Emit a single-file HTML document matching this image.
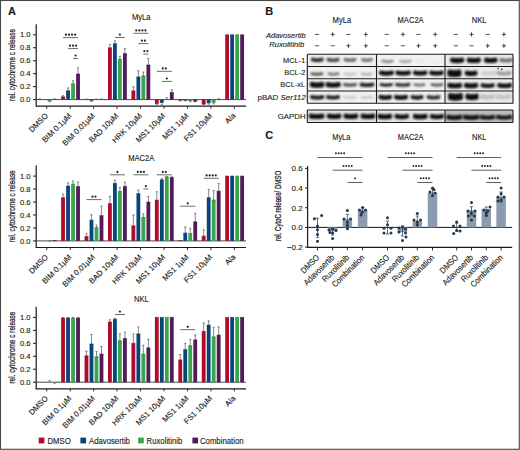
<!DOCTYPE html>
<html><head><meta charset="utf-8"><style>
html,body{margin:0;padding:0;background:#fff;}
#wrap{position:relative;width:520px;height:450px;overflow:hidden;background:#fff;}
svg{position:absolute;left:0;top:0;}
text{stroke:#1a1a1a;stroke-width:0.12px;}
</style></head><body><div id="wrap">
<svg width="520" height="450" viewBox="0 0 520 450" font-family="Liberation Sans, sans-serif" fill="#1a1a1a">
<text x="141.3" y="19.5" font-size="8.51" text-anchor="middle" textLength="18.58" lengthAdjust="spacingAndGlyphs" >MyLa</text>
<text transform="translate(15.1,65) rotate(-90)" font-size="8.3" style="stroke-width:0.22px" text-anchor="middle" textLength="72" lengthAdjust="spacingAndGlyphs">rel. cytochrome c release</text>
<path d="M36.2 24.2V106.2H246" fill="none" stroke="#1a1a1a" stroke-width="1.2"/>
<path d="M36.2 99.6H246" fill="none" stroke="#333" stroke-width="0.9"/>
<path d="M33 99.6H36.2" stroke="#1a1a1a" stroke-width="1"/>
<text x="30.6" y="102.2" font-size="7.6" text-anchor="end">0.0</text>
<path d="M33 86.64H36.2" stroke="#1a1a1a" stroke-width="1"/>
<text x="30.6" y="89.24" font-size="7.6" text-anchor="end">0.2</text>
<path d="M33 73.68H36.2" stroke="#1a1a1a" stroke-width="1"/>
<text x="30.6" y="76.28" font-size="7.6" text-anchor="end">0.4</text>
<path d="M33 60.72H36.2" stroke="#1a1a1a" stroke-width="1"/>
<text x="30.6" y="63.32" font-size="7.6" text-anchor="end">0.6</text>
<path d="M33 47.76H36.2" stroke="#1a1a1a" stroke-width="1"/>
<text x="30.6" y="50.36" font-size="7.6" text-anchor="end">0.8</text>
<path d="M33 34.8H36.2" stroke="#1a1a1a" stroke-width="1"/>
<text x="30.6" y="37.4" font-size="7.6" text-anchor="end">1.0</text>
<path d="M46.8 106.2V108.8" stroke="#1a1a1a" stroke-width="0.9"/>
<text transform="translate(48.5,116.3) rotate(-45)" font-size="7.8" text-anchor="end">DMSO</text>
<path d="M39.6 99.6V98.82M38.5 98.82H40.7" stroke="#555" stroke-width="0.7" fill="none"/>
<rect x="47.7" y="99.6" width="3.8" height="1.3" fill="#38a64b"/>
<path d="M47.7 100.9H51.5" stroke="#267032" stroke-width="0.6"/>
<path d="M49.6 100.9V101.87M48.5 101.87H50.7" stroke="#555" stroke-width="0.7" fill="none"/>
<path d="M54.6 99.6V98.82M53.5 98.82H55.7" stroke="#555" stroke-width="0.7" fill="none"/>
<path d="M70.24 106.2V108.8" stroke="#1a1a1a" stroke-width="0.9"/>
<text transform="translate(71.94,116.3) rotate(-45)" font-size="7.8" text-anchor="end">BIM 0.1µM</text>
<rect x="61.14" y="96.81" width="3.8" height="2.79" fill="#b20a2a"/>
<path d="M61.14 96.81H64.94" stroke="#7a0a1e" stroke-width="0.6"/>
<path d="M63.04 96.81V95.71M61.94 95.71H64.14" stroke="#555" stroke-width="0.7" fill="none"/>
<rect x="66.14" y="90.72" width="3.8" height="8.88" fill="#07467a"/>
<path d="M66.14 90.72H69.94" stroke="#07304f" stroke-width="0.6"/>
<path d="M68.04 90.72V87.94M66.94 87.94H69.14" stroke="#555" stroke-width="0.7" fill="none"/>
<rect x="71.14" y="83.72" width="3.8" height="15.88" fill="#38a64b"/>
<path d="M71.14 83.72H74.94" stroke="#267032" stroke-width="0.6"/>
<path d="M73.04 83.72V80.81M71.94 80.81H74.14" stroke="#555" stroke-width="0.7" fill="none"/>
<rect x="76.14" y="74" width="3.8" height="25.6" fill="#521a5a"/>
<path d="M76.14 74H79.94" stroke="#36103b" stroke-width="0.6"/>
<path d="M78.04 74V67.85M76.94 67.85H79.14" stroke="#555" stroke-width="0.7" fill="none"/>
<path d="M93.68 106.2V108.8" stroke="#1a1a1a" stroke-width="0.9"/>
<text transform="translate(95.38,116.3) rotate(-45)" font-size="7.8" text-anchor="end">BIM 0.01µM</text>
<path d="M86.48 99.6V98.95M85.38 98.95H87.58" stroke="#555" stroke-width="0.7" fill="none"/>
<rect x="89.58" y="99.6" width="3.8" height="0.65" fill="#07467a"/>
<path d="M89.58 100.25H93.38" stroke="#07304f" stroke-width="0.6"/>
<path d="M91.48 100.25V101.54M90.38 101.54H92.58" stroke="#555" stroke-width="0.7" fill="none"/>
<path d="M96.48 99.6V98.95M95.38 98.95H97.58" stroke="#555" stroke-width="0.7" fill="none"/>
<path d="M101.48 99.6V98.95M100.38 98.95H102.58" stroke="#555" stroke-width="0.7" fill="none"/>
<path d="M117.12 106.2V108.8" stroke="#1a1a1a" stroke-width="0.9"/>
<text transform="translate(118.82,116.3) rotate(-45)" font-size="7.8" text-anchor="end">BAD 10µM</text>
<rect x="108.02" y="47.76" width="3.8" height="51.84" fill="#b20a2a"/>
<path d="M108.02 47.76H111.82" stroke="#7a0a1e" stroke-width="0.6"/>
<path d="M109.92 47.76V44.52M108.82 44.52H111.02" stroke="#555" stroke-width="0.7" fill="none"/>
<rect x="113.02" y="43.68" width="3.8" height="55.92" fill="#07467a"/>
<path d="M113.02 43.68H116.82" stroke="#07304f" stroke-width="0.6"/>
<path d="M114.92 43.68V40.89M113.82 40.89H116.02" stroke="#555" stroke-width="0.7" fill="none"/>
<rect x="118.02" y="59.23" width="3.8" height="40.37" fill="#38a64b"/>
<path d="M118.02 59.23H121.82" stroke="#267032" stroke-width="0.6"/>
<path d="M119.92 59.23V56.31M118.82 56.31H121.02" stroke="#555" stroke-width="0.7" fill="none"/>
<rect x="123.02" y="53.59" width="3.8" height="46.01" fill="#521a5a"/>
<path d="M123.02 53.59H126.82" stroke="#36103b" stroke-width="0.6"/>
<path d="M124.92 53.59V48.67M123.82 48.67H126.02" stroke="#555" stroke-width="0.7" fill="none"/>
<path d="M140.56 106.2V108.8" stroke="#1a1a1a" stroke-width="0.9"/>
<text transform="translate(142.26,116.3) rotate(-45)" font-size="7.8" text-anchor="end">HRK 10µM</text>
<rect x="131.46" y="90.92" width="3.8" height="8.68" fill="#b20a2a"/>
<path d="M131.46 90.92H135.26" stroke="#7a0a1e" stroke-width="0.6"/>
<path d="M133.36 90.92V86.83M132.26 86.83H134.46" stroke="#555" stroke-width="0.7" fill="none"/>
<rect x="136.46" y="76.92" width="3.8" height="22.68" fill="#07467a"/>
<path d="M136.46 76.92H140.26" stroke="#07304f" stroke-width="0.6"/>
<path d="M138.36 76.92V70.76M137.26 70.76H139.46" stroke="#555" stroke-width="0.7" fill="none"/>
<rect x="141.46" y="75.95" width="3.8" height="23.65" fill="#38a64b"/>
<path d="M141.46 75.95H145.26" stroke="#267032" stroke-width="0.6"/>
<path d="M143.36 75.95V72M142.26 72H144.46" stroke="#555" stroke-width="0.7" fill="none"/>
<rect x="146.46" y="65" width="3.8" height="34.6" fill="#521a5a"/>
<path d="M146.46 65H150.26" stroke="#36103b" stroke-width="0.6"/>
<path d="M148.36 65V58.45M147.26 58.45H149.46" stroke="#555" stroke-width="0.7" fill="none"/>
<path d="M164 106.2V108.8" stroke="#1a1a1a" stroke-width="0.9"/>
<text transform="translate(165.7,116.3) rotate(-45)" font-size="7.8" text-anchor="end">MS1 10µM</text>
<rect x="154.9" y="99.6" width="3.8" height="3.89" fill="#b20a2a"/>
<path d="M154.9 103.49H158.7" stroke="#7a0a1e" stroke-width="0.6"/>
<path d="M156.8 103.49V104.46M155.7 104.46H157.9" stroke="#555" stroke-width="0.7" fill="none"/>
<rect x="159.9" y="99.6" width="3.8" height="2.92" fill="#07467a"/>
<path d="M159.9 102.52H163.7" stroke="#07304f" stroke-width="0.6"/>
<path d="M161.8 102.52V104.78M160.7 104.78H162.9" stroke="#555" stroke-width="0.7" fill="none"/>
<path d="M166.8 99.6V97.66M165.7 97.66H167.9" stroke="#555" stroke-width="0.7" fill="none"/>
<rect x="169.9" y="92.47" width="3.8" height="7.13" fill="#521a5a"/>
<path d="M169.9 92.47H173.7" stroke="#36103b" stroke-width="0.6"/>
<path d="M171.8 92.47V89.88M170.7 89.88H172.9" stroke="#555" stroke-width="0.7" fill="none"/>
<path d="M187.44 106.2V108.8" stroke="#1a1a1a" stroke-width="0.9"/>
<text transform="translate(189.14,116.3) rotate(-45)" font-size="7.8" text-anchor="end">MS1 1µM</text>
<rect x="178.34" y="99.6" width="3.8" height="0.65" fill="#b20a2a"/>
<path d="M178.34 100.25H182.14" stroke="#7a0a1e" stroke-width="0.6"/>
<path d="M180.24 100.25V100.9M179.14 100.9H181.34" stroke="#555" stroke-width="0.7" fill="none"/>
<rect x="183.34" y="99.6" width="3.8" height="0.65" fill="#07467a"/>
<path d="M183.34 100.25H187.14" stroke="#07304f" stroke-width="0.6"/>
<path d="M185.24 100.25V100.9M184.14 100.9H186.34" stroke="#555" stroke-width="0.7" fill="none"/>
<rect x="188.34" y="99.6" width="3.8" height="0.97" fill="#38a64b"/>
<path d="M188.34 100.57H192.14" stroke="#267032" stroke-width="0.6"/>
<path d="M190.24 100.57V101.54M189.14 101.54H191.34" stroke="#555" stroke-width="0.7" fill="none"/>
<rect x="193.34" y="99.6" width="3.8" height="1.62" fill="#521a5a"/>
<path d="M193.34 101.22H197.14" stroke="#36103b" stroke-width="0.6"/>
<path d="M195.24 101.22V101.87M194.14 101.87H196.34" stroke="#555" stroke-width="0.7" fill="none"/>
<path d="M210.88 106.2V108.8" stroke="#1a1a1a" stroke-width="0.9"/>
<text transform="translate(212.58,116.3) rotate(-45)" font-size="7.8" text-anchor="end">FS1 10µM</text>
<rect x="201.78" y="99.6" width="3.8" height="4.54" fill="#b20a2a"/>
<path d="M201.78 104.14H205.58" stroke="#7a0a1e" stroke-width="0.6"/>
<path d="M203.68 104.14V104.78M202.58 104.78H204.78" stroke="#555" stroke-width="0.7" fill="none"/>
<rect x="206.78" y="99.6" width="3.8" height="3.24" fill="#07467a"/>
<path d="M206.78 102.84H210.58" stroke="#07304f" stroke-width="0.6"/>
<path d="M208.68 102.84V104.14M207.58 104.14H209.78" stroke="#555" stroke-width="0.7" fill="none"/>
<rect x="211.78" y="99.6" width="3.8" height="2.59" fill="#38a64b"/>
<path d="M211.78 102.19H215.58" stroke="#267032" stroke-width="0.6"/>
<path d="M213.68 102.19V103.81M212.58 103.81H214.78" stroke="#555" stroke-width="0.7" fill="none"/>
<path d="M218.68 99.6V98.63M217.58 98.63H219.78" stroke="#555" stroke-width="0.7" fill="none"/>
<path d="M234.32 106.2V108.8" stroke="#1a1a1a" stroke-width="0.9"/>
<text transform="translate(236.02,116.3) rotate(-45)" font-size="7.8" text-anchor="end">Ala</text>
<rect x="225.22" y="34.8" width="3.8" height="64.8" fill="#b20a2a"/>
<path d="M225.22 34.8H229.02" stroke="#7a0a1e" stroke-width="0.6"/>
<rect x="230.22" y="34.8" width="3.8" height="64.8" fill="#07467a"/>
<path d="M230.22 34.8H234.02" stroke="#07304f" stroke-width="0.6"/>
<rect x="235.22" y="34.8" width="3.8" height="64.8" fill="#38a64b"/>
<path d="M235.22 34.8H239.02" stroke="#267032" stroke-width="0.6"/>
<rect x="240.22" y="34.8" width="3.8" height="64.8" fill="#521a5a"/>
<path d="M240.22 34.8H244.02" stroke="#36103b" stroke-width="0.6"/>
<path d="M63.04 37.6H78.04" stroke="#3a3a3a" stroke-width="0.75"/>
<circle cx="65.96" cy="34.7" r="1.08" fill="#222"/>
<circle cx="69.01" cy="34.7" r="1.08" fill="#222"/>
<circle cx="72.06" cy="34.7" r="1.08" fill="#222"/>
<circle cx="75.11" cy="34.7" r="1.08" fill="#222"/>
<path d="M68.04 48.6H78.04" stroke="#3a3a3a" stroke-width="0.75"/>
<circle cx="69.99" cy="45.7" r="1.08" fill="#222"/>
<circle cx="73.04" cy="45.7" r="1.08" fill="#222"/>
<circle cx="76.09" cy="45.7" r="1.08" fill="#222"/>
<path d="M73.04 58.4H78.04" stroke="#3a3a3a" stroke-width="0.75"/>
<circle cx="75.54" cy="55.5" r="1.08" fill="#222"/>
<path d="M114.92 37.5H124.92" stroke="#3a3a3a" stroke-width="0.75"/>
<circle cx="119.92" cy="34.6" r="1.08" fill="#222"/>
<path d="M133.36 33.3H148.36" stroke="#3a3a3a" stroke-width="0.75"/>
<circle cx="136.29" cy="30.4" r="1.08" fill="#222"/>
<circle cx="139.34" cy="30.4" r="1.08" fill="#222"/>
<circle cx="142.39" cy="30.4" r="1.08" fill="#222"/>
<circle cx="145.44" cy="30.4" r="1.08" fill="#222"/>
<path d="M138.36 43.6H148.36" stroke="#3a3a3a" stroke-width="0.75"/>
<circle cx="141.84" cy="40.7" r="1.08" fill="#222"/>
<circle cx="144.89" cy="40.7" r="1.08" fill="#222"/>
<path d="M143.36 54H148.36" stroke="#3a3a3a" stroke-width="0.75"/>
<circle cx="144.34" cy="51.1" r="1.08" fill="#222"/>
<circle cx="147.39" cy="51.1" r="1.08" fill="#222"/>
<path d="M156.8 71.3H171.8" stroke="#3a3a3a" stroke-width="0.75"/>
<circle cx="162.78" cy="68.4" r="1.08" fill="#222"/>
<circle cx="165.83" cy="68.4" r="1.08" fill="#222"/>
<path d="M161.8 81.4H171.8" stroke="#3a3a3a" stroke-width="0.75"/>
<circle cx="166.8" cy="78.5" r="1.08" fill="#222"/>
<text x="141.3" y="160.8" font-size="8.51" text-anchor="middle" textLength="26.18" lengthAdjust="spacingAndGlyphs" >MAC2A</text>
<text transform="translate(15.1,206.3) rotate(-90)" font-size="8.3" style="stroke-width:0.22px" text-anchor="middle" textLength="72" lengthAdjust="spacingAndGlyphs">rel. cytochrome c release</text>
<path d="M36.2 165.5V247.5H246" fill="none" stroke="#1a1a1a" stroke-width="1.2"/>
<path d="M36.2 240.9H246" fill="none" stroke="#333" stroke-width="0.9"/>
<path d="M33 240.9H36.2" stroke="#1a1a1a" stroke-width="1"/>
<text x="30.6" y="243.5" font-size="7.6" text-anchor="end">0.0</text>
<path d="M33 227.94H36.2" stroke="#1a1a1a" stroke-width="1"/>
<text x="30.6" y="230.54" font-size="7.6" text-anchor="end">0.2</text>
<path d="M33 214.98H36.2" stroke="#1a1a1a" stroke-width="1"/>
<text x="30.6" y="217.58" font-size="7.6" text-anchor="end">0.4</text>
<path d="M33 202.02H36.2" stroke="#1a1a1a" stroke-width="1"/>
<text x="30.6" y="204.62" font-size="7.6" text-anchor="end">0.6</text>
<path d="M33 189.06H36.2" stroke="#1a1a1a" stroke-width="1"/>
<text x="30.6" y="191.66" font-size="7.6" text-anchor="end">0.8</text>
<path d="M33 176.1H36.2" stroke="#1a1a1a" stroke-width="1"/>
<text x="30.6" y="178.7" font-size="7.6" text-anchor="end">1.0</text>
<path d="M46.8 247.5V250.1" stroke="#1a1a1a" stroke-width="0.9"/>
<text transform="translate(48.5,257.6) rotate(-45)" font-size="7.8" text-anchor="end">DMSO</text>
<path d="M48.6 240.9H50.6" stroke="#444" stroke-width="0.8"/>
<rect x="52.7" y="240.58" width="3.8" height="0.32" fill="#521a5a"/>
<path d="M52.7 240.58H56.5" stroke="#36103b" stroke-width="0.6"/>
<path d="M70.24 247.5V250.1" stroke="#1a1a1a" stroke-width="0.9"/>
<text transform="translate(71.94,257.6) rotate(-45)" font-size="7.8" text-anchor="end">BIM 0.1µM</text>
<rect x="61.14" y="197.74" width="3.8" height="43.16" fill="#b20a2a"/>
<path d="M61.14 197.74H64.94" stroke="#7a0a1e" stroke-width="0.6"/>
<path d="M63.04 197.74V194.24M61.94 194.24H64.14" stroke="#555" stroke-width="0.7" fill="none"/>
<rect x="66.14" y="186.08" width="3.8" height="54.82" fill="#07467a"/>
<path d="M66.14 186.08H69.94" stroke="#07304f" stroke-width="0.6"/>
<path d="M68.04 186.08V182.84M66.94 182.84H69.14" stroke="#555" stroke-width="0.7" fill="none"/>
<rect x="71.14" y="184.26" width="3.8" height="56.64" fill="#38a64b"/>
<path d="M71.14 184.26H74.94" stroke="#267032" stroke-width="0.6"/>
<path d="M73.04 184.26V181.02M71.94 181.02H74.14" stroke="#555" stroke-width="0.7" fill="none"/>
<rect x="76.14" y="186.47" width="3.8" height="54.43" fill="#521a5a"/>
<path d="M76.14 186.47H79.94" stroke="#36103b" stroke-width="0.6"/>
<path d="M78.04 186.47V181.93M76.94 181.93H79.14" stroke="#555" stroke-width="0.7" fill="none"/>
<path d="M93.68 247.5V250.1" stroke="#1a1a1a" stroke-width="0.9"/>
<text transform="translate(95.38,257.6) rotate(-45)" font-size="7.8" text-anchor="end">BIM 0.01µM</text>
<rect x="84.58" y="236.56" width="3.8" height="4.34" fill="#b20a2a"/>
<path d="M84.58 236.56H88.38" stroke="#7a0a1e" stroke-width="0.6"/>
<path d="M86.48 236.56V233.77M85.38 233.77H87.58" stroke="#555" stroke-width="0.7" fill="none"/>
<rect x="89.58" y="220.16" width="3.8" height="20.74" fill="#07467a"/>
<path d="M89.58 220.16H93.38" stroke="#07304f" stroke-width="0.6"/>
<path d="M91.48 220.16V214.66M90.38 214.66H92.58" stroke="#555" stroke-width="0.7" fill="none"/>
<rect x="94.58" y="227.62" width="3.8" height="13.28" fill="#38a64b"/>
<path d="M94.58 227.62H98.38" stroke="#267032" stroke-width="0.6"/>
<path d="M96.48 227.62V225.09M95.38 225.09H97.58" stroke="#555" stroke-width="0.7" fill="none"/>
<rect x="99.58" y="215.63" width="3.8" height="25.27" fill="#521a5a"/>
<path d="M99.58 215.63H103.38" stroke="#36103b" stroke-width="0.6"/>
<path d="M101.48 215.63V206.17M100.38 206.17H102.58" stroke="#555" stroke-width="0.7" fill="none"/>
<path d="M117.12 247.5V250.1" stroke="#1a1a1a" stroke-width="0.9"/>
<text transform="translate(118.82,257.6) rotate(-45)" font-size="7.8" text-anchor="end">BAD 10µM</text>
<rect x="108.02" y="203.64" width="3.8" height="37.26" fill="#b20a2a"/>
<path d="M108.02 203.64H111.82" stroke="#7a0a1e" stroke-width="0.6"/>
<path d="M109.92 203.64V196.45M108.82 196.45H111.02" stroke="#555" stroke-width="0.7" fill="none"/>
<rect x="113.02" y="183.36" width="3.8" height="57.54" fill="#07467a"/>
<path d="M113.02 183.36H116.82" stroke="#07304f" stroke-width="0.6"/>
<path d="M114.92 183.36V180.31M113.82 180.31H116.02" stroke="#555" stroke-width="0.7" fill="none"/>
<rect x="118.02" y="191.39" width="3.8" height="49.51" fill="#38a64b"/>
<path d="M118.02 191.39H121.82" stroke="#267032" stroke-width="0.6"/>
<path d="M119.92 191.39V187.5M118.82 187.5H121.02" stroke="#555" stroke-width="0.7" fill="none"/>
<rect x="123.02" y="186.47" width="3.8" height="54.43" fill="#521a5a"/>
<path d="M123.02 186.47H126.82" stroke="#36103b" stroke-width="0.6"/>
<path d="M124.92 186.47V182.13M123.82 182.13H126.02" stroke="#555" stroke-width="0.7" fill="none"/>
<path d="M140.56 247.5V250.1" stroke="#1a1a1a" stroke-width="0.9"/>
<text transform="translate(142.26,257.6) rotate(-45)" font-size="7.8" text-anchor="end">HRK 10µM</text>
<rect x="131.46" y="225.8" width="3.8" height="15.1" fill="#b20a2a"/>
<path d="M131.46 225.8H135.26" stroke="#7a0a1e" stroke-width="0.6"/>
<path d="M133.36 225.8V214.98M132.26 214.98H134.46" stroke="#555" stroke-width="0.7" fill="none"/>
<rect x="136.46" y="193.6" width="3.8" height="47.3" fill="#07467a"/>
<path d="M136.46 193.6H140.26" stroke="#07304f" stroke-width="0.6"/>
<path d="M138.36 193.6V190.03M137.26 190.03H139.46" stroke="#555" stroke-width="0.7" fill="none"/>
<rect x="141.46" y="217.44" width="3.8" height="23.46" fill="#38a64b"/>
<path d="M141.46 217.44H145.26" stroke="#267032" stroke-width="0.6"/>
<path d="M143.36 217.44V213.81M142.26 213.81H144.46" stroke="#555" stroke-width="0.7" fill="none"/>
<rect x="146.46" y="202.02" width="3.8" height="38.88" fill="#521a5a"/>
<path d="M146.46 202.02H150.26" stroke="#36103b" stroke-width="0.6"/>
<path d="M148.36 202.02V196.45M147.26 196.45H149.46" stroke="#555" stroke-width="0.7" fill="none"/>
<path d="M164 247.5V250.1" stroke="#1a1a1a" stroke-width="0.9"/>
<text transform="translate(165.7,257.6) rotate(-45)" font-size="7.8" text-anchor="end">MS1 10µM</text>
<rect x="154.9" y="200.08" width="3.8" height="40.82" fill="#b20a2a"/>
<path d="M154.9 200.08H158.7" stroke="#7a0a1e" stroke-width="0.6"/>
<path d="M156.8 200.08V191.85M155.7 191.85H157.9" stroke="#555" stroke-width="0.7" fill="none"/>
<rect x="159.9" y="179.86" width="3.8" height="61.04" fill="#07467a"/>
<path d="M159.9 179.86H163.7" stroke="#07304f" stroke-width="0.6"/>
<path d="M161.8 179.86V178.69M160.7 178.69H162.9" stroke="#555" stroke-width="0.7" fill="none"/>
<rect x="164.9" y="177.07" width="3.8" height="63.83" fill="#38a64b"/>
<path d="M164.9 177.07H168.7" stroke="#267032" stroke-width="0.6"/>
<path d="M166.8 177.07V176.42M165.7 176.42H167.9" stroke="#555" stroke-width="0.7" fill="none"/>
<rect x="169.9" y="177.53" width="3.8" height="63.37" fill="#521a5a"/>
<path d="M169.9 177.53H173.7" stroke="#36103b" stroke-width="0.6"/>
<path d="M171.8 177.53V176.75M170.7 176.75H172.9" stroke="#555" stroke-width="0.7" fill="none"/>
<path d="M187.44 247.5V250.1" stroke="#1a1a1a" stroke-width="0.9"/>
<text transform="translate(189.14,257.6) rotate(-45)" font-size="7.8" text-anchor="end">MS1 1µM</text>
<rect x="178.34" y="240.58" width="3.8" height="0.32" fill="#b20a2a"/>
<path d="M178.34 240.58H182.14" stroke="#7a0a1e" stroke-width="0.6"/>
<rect x="183.34" y="233.12" width="3.8" height="7.78" fill="#07467a"/>
<path d="M183.34 233.12H187.14" stroke="#07304f" stroke-width="0.6"/>
<path d="M185.24 233.12V226.9M184.14 226.9H186.34" stroke="#555" stroke-width="0.7" fill="none"/>
<rect x="188.34" y="233.58" width="3.8" height="7.32" fill="#38a64b"/>
<path d="M188.34 233.58H192.14" stroke="#267032" stroke-width="0.6"/>
<path d="M190.24 233.58V228.59M189.14 228.59H191.34" stroke="#555" stroke-width="0.7" fill="none"/>
<rect x="193.34" y="221.85" width="3.8" height="19.05" fill="#521a5a"/>
<path d="M193.34 221.85H197.14" stroke="#36103b" stroke-width="0.6"/>
<path d="M195.24 221.85V213.3M194.14 213.3H196.34" stroke="#555" stroke-width="0.7" fill="none"/>
<path d="M210.88 247.5V250.1" stroke="#1a1a1a" stroke-width="0.9"/>
<text transform="translate(212.58,257.6) rotate(-45)" font-size="7.8" text-anchor="end">FS1 10µM</text>
<rect x="201.78" y="236.17" width="3.8" height="4.73" fill="#b20a2a"/>
<path d="M201.78 236.17H205.58" stroke="#7a0a1e" stroke-width="0.6"/>
<path d="M203.68 236.17V229.88M202.58 229.88H204.78" stroke="#555" stroke-width="0.7" fill="none"/>
<rect x="206.78" y="197.74" width="3.8" height="43.16" fill="#07467a"/>
<path d="M206.78 197.74H210.58" stroke="#07304f" stroke-width="0.6"/>
<path d="M208.68 197.74V189.32M207.58 189.32H209.78" stroke="#555" stroke-width="0.7" fill="none"/>
<rect x="211.78" y="200.08" width="3.8" height="40.82" fill="#38a64b"/>
<path d="M211.78 200.08H215.58" stroke="#267032" stroke-width="0.6"/>
<path d="M213.68 200.08V190.62M212.58 190.62H214.78" stroke="#555" stroke-width="0.7" fill="none"/>
<rect x="216.78" y="191.13" width="3.8" height="49.77" fill="#521a5a"/>
<path d="M216.78 191.13H220.58" stroke="#36103b" stroke-width="0.6"/>
<path d="M218.68 191.13V183.49M217.58 183.49H219.78" stroke="#555" stroke-width="0.7" fill="none"/>
<path d="M234.32 247.5V250.1" stroke="#1a1a1a" stroke-width="0.9"/>
<text transform="translate(236.02,257.6) rotate(-45)" font-size="7.8" text-anchor="end">Ala</text>
<rect x="225.22" y="176.1" width="3.8" height="64.8" fill="#b20a2a"/>
<path d="M225.22 176.1H229.02" stroke="#7a0a1e" stroke-width="0.6"/>
<rect x="230.22" y="176.1" width="3.8" height="64.8" fill="#07467a"/>
<path d="M230.22 176.1H234.02" stroke="#07304f" stroke-width="0.6"/>
<rect x="235.22" y="176.1" width="3.8" height="64.8" fill="#38a64b"/>
<path d="M235.22 176.1H239.02" stroke="#267032" stroke-width="0.6"/>
<rect x="240.22" y="176.1" width="3.8" height="64.8" fill="#521a5a"/>
<path d="M240.22 176.1H244.02" stroke="#36103b" stroke-width="0.6"/>
<path d="M86.48 199.6H101.48" stroke="#3a3a3a" stroke-width="0.75"/>
<circle cx="92.46" cy="196.7" r="1.08" fill="#222"/>
<circle cx="95.51" cy="196.7" r="1.08" fill="#222"/>
<path d="M109.92 174.8H124.92" stroke="#3a3a3a" stroke-width="0.75"/>
<circle cx="117.42" cy="171.9" r="1.08" fill="#222"/>
<path d="M133.36 174.8H148.36" stroke="#3a3a3a" stroke-width="0.75"/>
<circle cx="137.81" cy="171.9" r="1.08" fill="#222"/>
<circle cx="140.86" cy="171.9" r="1.08" fill="#222"/>
<circle cx="143.91" cy="171.9" r="1.08" fill="#222"/>
<path d="M143.36 189H148.36" stroke="#3a3a3a" stroke-width="0.75"/>
<circle cx="145.86" cy="186.1" r="1.08" fill="#222"/>
<path d="M156.8 174.8H171.8" stroke="#3a3a3a" stroke-width="0.75"/>
<circle cx="162.78" cy="171.9" r="1.08" fill="#222"/>
<circle cx="165.83" cy="171.9" r="1.08" fill="#222"/>
<path d="M180.24 206.2H195.24" stroke="#3a3a3a" stroke-width="0.75"/>
<circle cx="187.74" cy="203.3" r="1.08" fill="#222"/>
<path d="M203.68 178.3H218.68" stroke="#3a3a3a" stroke-width="0.75"/>
<circle cx="206.61" cy="175.4" r="1.08" fill="#222"/>
<circle cx="209.66" cy="175.4" r="1.08" fill="#222"/>
<circle cx="212.71" cy="175.4" r="1.08" fill="#222"/>
<circle cx="215.75" cy="175.4" r="1.08" fill="#222"/>
<text x="141.3" y="302.1" font-size="8.51" text-anchor="middle" textLength="14.78" lengthAdjust="spacingAndGlyphs" >NKL</text>
<text transform="translate(15.1,347.6) rotate(-90)" font-size="8.3" style="stroke-width:0.22px" text-anchor="middle" textLength="72" lengthAdjust="spacingAndGlyphs">rel. cytochrome c release</text>
<path d="M36.2 306.8V388.8H246" fill="none" stroke="#1a1a1a" stroke-width="1.2"/>
<path d="M36.2 382.2H246" fill="none" stroke="#333" stroke-width="0.9"/>
<path d="M33 382.2H36.2" stroke="#1a1a1a" stroke-width="1"/>
<text x="30.6" y="384.8" font-size="7.6" text-anchor="end">0.0</text>
<path d="M33 369.24H36.2" stroke="#1a1a1a" stroke-width="1"/>
<text x="30.6" y="371.84" font-size="7.6" text-anchor="end">0.2</text>
<path d="M33 356.28H36.2" stroke="#1a1a1a" stroke-width="1"/>
<text x="30.6" y="358.88" font-size="7.6" text-anchor="end">0.4</text>
<path d="M33 343.32H36.2" stroke="#1a1a1a" stroke-width="1"/>
<text x="30.6" y="345.92" font-size="7.6" text-anchor="end">0.6</text>
<path d="M33 330.36H36.2" stroke="#1a1a1a" stroke-width="1"/>
<text x="30.6" y="332.96" font-size="7.6" text-anchor="end">0.8</text>
<path d="M33 317.4H36.2" stroke="#1a1a1a" stroke-width="1"/>
<text x="30.6" y="320" font-size="7.6" text-anchor="end">1.0</text>
<path d="M46.8 388.8V391.4" stroke="#1a1a1a" stroke-width="0.9"/>
<text transform="translate(48.5,398.9) rotate(-45)" font-size="7.8" text-anchor="end">DMSO</text>
<path d="M49.6 381.94V380.58M48.5 380.58H50.7" stroke="#555" stroke-width="0.7" fill="none"/>
<path d="M54.6 382.46V383.63M53.5 383.63H55.7" stroke="#555" stroke-width="0.7" fill="none"/>
<path d="M70.24 388.8V391.4" stroke="#1a1a1a" stroke-width="0.9"/>
<text transform="translate(71.94,398.9) rotate(-45)" font-size="7.8" text-anchor="end">BIM 0.1µM</text>
<rect x="61.14" y="318.05" width="3.8" height="64.15" fill="#b20a2a"/>
<path d="M61.14 318.05H64.94" stroke="#7a0a1e" stroke-width="0.6"/>
<path d="M63.04 318.05V317.4M61.94 317.4H64.14" stroke="#555" stroke-width="0.7" fill="none"/>
<rect x="66.14" y="318.05" width="3.8" height="64.15" fill="#07467a"/>
<path d="M66.14 318.05H69.94" stroke="#07304f" stroke-width="0.6"/>
<path d="M68.04 318.05V317.4M66.94 317.4H69.14" stroke="#555" stroke-width="0.7" fill="none"/>
<rect x="71.14" y="318.05" width="3.8" height="64.15" fill="#38a64b"/>
<path d="M71.14 318.05H74.94" stroke="#267032" stroke-width="0.6"/>
<path d="M73.04 318.05V317.4M71.94 317.4H74.14" stroke="#555" stroke-width="0.7" fill="none"/>
<rect x="76.14" y="318.05" width="3.8" height="64.15" fill="#521a5a"/>
<path d="M76.14 318.05H79.94" stroke="#36103b" stroke-width="0.6"/>
<path d="M78.04 318.05V317.4M76.94 317.4H79.14" stroke="#555" stroke-width="0.7" fill="none"/>
<path d="M93.68 388.8V391.4" stroke="#1a1a1a" stroke-width="0.9"/>
<text transform="translate(95.38,398.9) rotate(-45)" font-size="7.8" text-anchor="end">BIM 0.01µM</text>
<rect x="84.58" y="355.83" width="3.8" height="26.37" fill="#b20a2a"/>
<path d="M84.58 355.83H88.38" stroke="#7a0a1e" stroke-width="0.6"/>
<path d="M86.48 355.83V351.1M85.38 351.1H87.58" stroke="#555" stroke-width="0.7" fill="none"/>
<rect x="89.58" y="343.97" width="3.8" height="38.23" fill="#07467a"/>
<path d="M89.58 343.97H93.38" stroke="#07304f" stroke-width="0.6"/>
<path d="M91.48 343.97V334.44M90.38 334.44H92.58" stroke="#555" stroke-width="0.7" fill="none"/>
<rect x="94.58" y="356.73" width="3.8" height="25.47" fill="#38a64b"/>
<path d="M94.58 356.73H98.38" stroke="#267032" stroke-width="0.6"/>
<path d="M96.48 356.73V351.42M95.38 351.42H97.58" stroke="#555" stroke-width="0.7" fill="none"/>
<rect x="99.58" y="354.01" width="3.8" height="28.19" fill="#521a5a"/>
<path d="M99.58 354.01H103.38" stroke="#36103b" stroke-width="0.6"/>
<path d="M101.48 354.01V346.37M100.38 346.37H102.58" stroke="#555" stroke-width="0.7" fill="none"/>
<path d="M117.12 388.8V391.4" stroke="#1a1a1a" stroke-width="0.9"/>
<text transform="translate(118.82,398.9) rotate(-45)" font-size="7.8" text-anchor="end">BAD 10µM</text>
<rect x="108.02" y="322" width="3.8" height="60.2" fill="#b20a2a"/>
<path d="M108.02 322H111.82" stroke="#7a0a1e" stroke-width="0.6"/>
<path d="M109.92 322V319.73M108.82 319.73H111.02" stroke="#555" stroke-width="0.7" fill="none"/>
<rect x="113.02" y="319.34" width="3.8" height="62.86" fill="#07467a"/>
<path d="M113.02 319.34H116.82" stroke="#07304f" stroke-width="0.6"/>
<path d="M114.92 319.34V318.37M113.82 318.37H116.02" stroke="#555" stroke-width="0.7" fill="none"/>
<rect x="118.02" y="340.73" width="3.8" height="41.47" fill="#38a64b"/>
<path d="M118.02 340.73H121.82" stroke="#267032" stroke-width="0.6"/>
<path d="M119.92 340.73V333.92M118.82 333.92H121.02" stroke="#555" stroke-width="0.7" fill="none"/>
<rect x="123.02" y="338.52" width="3.8" height="43.68" fill="#521a5a"/>
<path d="M123.02 338.52H126.82" stroke="#36103b" stroke-width="0.6"/>
<path d="M124.92 338.52V332.17M123.82 332.17H126.02" stroke="#555" stroke-width="0.7" fill="none"/>
<path d="M140.56 388.8V391.4" stroke="#1a1a1a" stroke-width="0.9"/>
<text transform="translate(142.26,398.9) rotate(-45)" font-size="7.8" text-anchor="end">HRK 10µM</text>
<rect x="131.46" y="343.32" width="3.8" height="38.88" fill="#b20a2a"/>
<path d="M131.46 343.32H135.26" stroke="#7a0a1e" stroke-width="0.6"/>
<path d="M133.36 343.32V333.92M132.26 333.92H134.46" stroke="#555" stroke-width="0.7" fill="none"/>
<rect x="136.46" y="333.92" width="3.8" height="48.28" fill="#07467a"/>
<path d="M136.46 333.92H140.26" stroke="#07304f" stroke-width="0.6"/>
<path d="M138.36 333.92V326.86M137.26 326.86H139.46" stroke="#555" stroke-width="0.7" fill="none"/>
<rect x="141.46" y="354.14" width="3.8" height="28.06" fill="#38a64b"/>
<path d="M141.46 354.14H145.26" stroke="#267032" stroke-width="0.6"/>
<path d="M143.36 354.14V345.2M142.26 345.2H144.46" stroke="#555" stroke-width="0.7" fill="none"/>
<rect x="146.46" y="347.86" width="3.8" height="34.34" fill="#521a5a"/>
<path d="M146.46 347.86H150.26" stroke="#36103b" stroke-width="0.6"/>
<path d="M148.36 347.86V339.3M147.26 339.3H149.46" stroke="#555" stroke-width="0.7" fill="none"/>
<path d="M164 388.8V391.4" stroke="#1a1a1a" stroke-width="0.9"/>
<text transform="translate(165.7,398.9) rotate(-45)" font-size="7.8" text-anchor="end">MS1 10µM</text>
<rect x="154.9" y="317.4" width="3.8" height="64.8" fill="#b20a2a"/>
<path d="M154.9 317.4H158.7" stroke="#7a0a1e" stroke-width="0.6"/>
<rect x="159.9" y="317.4" width="3.8" height="64.8" fill="#07467a"/>
<path d="M159.9 317.4H163.7" stroke="#07304f" stroke-width="0.6"/>
<rect x="164.9" y="317.4" width="3.8" height="64.8" fill="#38a64b"/>
<path d="M164.9 317.4H168.7" stroke="#267032" stroke-width="0.6"/>
<rect x="169.9" y="317.4" width="3.8" height="64.8" fill="#521a5a"/>
<path d="M169.9 317.4H173.7" stroke="#36103b" stroke-width="0.6"/>
<path d="M187.44 388.8V391.4" stroke="#1a1a1a" stroke-width="0.9"/>
<text transform="translate(189.14,398.9) rotate(-45)" font-size="7.8" text-anchor="end">MS1 1µM</text>
<rect x="178.34" y="359.91" width="3.8" height="22.29" fill="#b20a2a"/>
<path d="M178.34 359.91H182.14" stroke="#7a0a1e" stroke-width="0.6"/>
<path d="M180.24 359.91V354.6M179.14 354.6H181.34" stroke="#555" stroke-width="0.7" fill="none"/>
<rect x="183.34" y="349.61" width="3.8" height="32.59" fill="#07467a"/>
<path d="M183.34 349.61H187.14" stroke="#07304f" stroke-width="0.6"/>
<path d="M185.24 349.61V343.32M184.14 343.32H186.34" stroke="#555" stroke-width="0.7" fill="none"/>
<rect x="188.34" y="345.72" width="3.8" height="36.48" fill="#38a64b"/>
<path d="M188.34 345.72H192.14" stroke="#267032" stroke-width="0.6"/>
<path d="M190.24 345.72V339.43M189.14 339.43H191.34" stroke="#555" stroke-width="0.7" fill="none"/>
<rect x="193.34" y="339.89" width="3.8" height="42.31" fill="#521a5a"/>
<path d="M193.34 339.89H197.14" stroke="#36103b" stroke-width="0.6"/>
<path d="M195.24 339.89V334.9M194.14 334.9H196.34" stroke="#555" stroke-width="0.7" fill="none"/>
<path d="M210.88 388.8V391.4" stroke="#1a1a1a" stroke-width="0.9"/>
<text transform="translate(212.58,398.9) rotate(-45)" font-size="7.8" text-anchor="end">FS1 10µM</text>
<rect x="201.78" y="331.46" width="3.8" height="50.74" fill="#b20a2a"/>
<path d="M201.78 331.46H205.58" stroke="#7a0a1e" stroke-width="0.6"/>
<path d="M203.68 331.46V322.91M202.58 322.91H204.78" stroke="#555" stroke-width="0.7" fill="none"/>
<rect x="206.78" y="325.05" width="3.8" height="57.15" fill="#07467a"/>
<path d="M206.78 325.05H210.58" stroke="#07304f" stroke-width="0.6"/>
<path d="M208.68 325.05V320.83M207.58 320.83H209.78" stroke="#555" stroke-width="0.7" fill="none"/>
<rect x="211.78" y="336.84" width="3.8" height="45.36" fill="#38a64b"/>
<path d="M211.78 336.84H215.58" stroke="#267032" stroke-width="0.6"/>
<path d="M213.68 336.84V327.31M212.58 327.31H214.78" stroke="#555" stroke-width="0.7" fill="none"/>
<rect x="216.78" y="335.09" width="3.8" height="47.11" fill="#521a5a"/>
<path d="M216.78 335.09H220.58" stroke="#36103b" stroke-width="0.6"/>
<path d="M218.68 335.09V326.86M217.58 326.86H219.78" stroke="#555" stroke-width="0.7" fill="none"/>
<path d="M234.32 388.8V391.4" stroke="#1a1a1a" stroke-width="0.9"/>
<text transform="translate(236.02,398.9) rotate(-45)" font-size="7.8" text-anchor="end">Ala</text>
<rect x="225.22" y="317.4" width="3.8" height="64.8" fill="#b20a2a"/>
<path d="M225.22 317.4H229.02" stroke="#7a0a1e" stroke-width="0.6"/>
<rect x="230.22" y="317.4" width="3.8" height="64.8" fill="#07467a"/>
<path d="M230.22 317.4H234.02" stroke="#07304f" stroke-width="0.6"/>
<rect x="235.22" y="317.4" width="3.8" height="64.8" fill="#38a64b"/>
<path d="M235.22 317.4H239.02" stroke="#267032" stroke-width="0.6"/>
<rect x="240.22" y="317.4" width="3.8" height="64.8" fill="#521a5a"/>
<path d="M240.22 317.4H244.02" stroke="#36103b" stroke-width="0.6"/>
<path d="M114.92 314.5H124.92" stroke="#3a3a3a" stroke-width="0.75"/>
<circle cx="119.92" cy="311.6" r="1.08" fill="#222"/>
<path d="M180.24 329.7H195.24" stroke="#3a3a3a" stroke-width="0.75"/>
<circle cx="187.74" cy="326.8" r="1.08" fill="#222"/>
<text x="8" y="14.7" font-size="11" font-weight="bold">A</text>
<text x="265.2" y="14.9" font-size="11" font-weight="bold">B</text>
<text x="265.2" y="138.6" font-size="11" font-weight="bold">C</text>
<rect x="38.7" y="437.6" width="5.7" height="5.8" fill="#b20a2a"/>
<text x="47.5" y="443.5" font-size="8.53" text-anchor="start" textLength="23.25" lengthAdjust="spacingAndGlyphs" >DMSO</text>
<rect x="80.4" y="437.6" width="5.7" height="5.8" fill="#07467a"/>
<text x="89" y="443.5" font-size="8.53" text-anchor="start" textLength="40.92" lengthAdjust="spacingAndGlyphs" >Adavosertib</text>
<rect x="138.1" y="437.6" width="5.7" height="5.8" fill="#38a64b"/>
<text x="146.6" y="443.5" font-size="8.53" text-anchor="start" textLength="35.75" lengthAdjust="spacingAndGlyphs" >Ruxolitinib</text>
<rect x="192.4" y="437.6" width="5.7" height="5.8" fill="#521a5a"/>
<text x="200" y="443.5" font-size="8.53" text-anchor="start" textLength="43.51" lengthAdjust="spacingAndGlyphs" >Combination</text>
<text x="341.9" y="22.6" font-size="8.36" text-anchor="middle" textLength="18.58" lengthAdjust="spacingAndGlyphs" >MyLa</text>
<text x="410.6" y="22.5" font-size="8.36" text-anchor="middle" textLength="26.18" lengthAdjust="spacingAndGlyphs" >MAC2A</text>
<text x="479.2" y="22.5" font-size="8.36" text-anchor="middle" textLength="14.78" lengthAdjust="spacingAndGlyphs" >NKL</text>
<text x="305.6" y="37.7" font-size="8.1" font-style="italic" text-anchor="end" textLength="39.6" lengthAdjust="spacingAndGlyphs">Adavosertib</text>
<text x="304.2" y="46.5" font-size="8.1" font-style="italic" text-anchor="end" textLength="35" lengthAdjust="spacingAndGlyphs">Ruxolitinib</text>
<path d="M314.9 34.4H319.1" stroke="#1a1a1a" stroke-width="0.75"/>
<path d="M314.9 45.8H319.1" stroke="#1a1a1a" stroke-width="0.75"/>
<path d="M330.6 34.4H334.8" stroke="#1a1a1a" stroke-width="0.75"/><path d="M332.7 32.2V36.6" stroke="#1a1a1a" stroke-width="0.75"/>
<path d="M330.6 45.8H334.8" stroke="#1a1a1a" stroke-width="0.75"/>
<path d="M346.3 34.4H350.5" stroke="#1a1a1a" stroke-width="0.75"/>
<path d="M346.3 45.8H350.5" stroke="#1a1a1a" stroke-width="0.75"/><path d="M348.4 43.6V48" stroke="#1a1a1a" stroke-width="0.75"/>
<path d="M363.7 34.4H367.9" stroke="#1a1a1a" stroke-width="0.75"/><path d="M365.8 32.2V36.6" stroke="#1a1a1a" stroke-width="0.75"/>
<path d="M363.7 45.8H367.9" stroke="#1a1a1a" stroke-width="0.75"/><path d="M365.8 43.6V48" stroke="#1a1a1a" stroke-width="0.75"/>
<path d="M384.6 34.4H388.8" stroke="#1a1a1a" stroke-width="0.75"/>
<path d="M384.6 45.8H388.8" stroke="#1a1a1a" stroke-width="0.75"/>
<path d="M400.8 34.4H405" stroke="#1a1a1a" stroke-width="0.75"/><path d="M402.9 32.2V36.6" stroke="#1a1a1a" stroke-width="0.75"/>
<path d="M400.8 45.8H405" stroke="#1a1a1a" stroke-width="0.75"/>
<path d="M416.4 34.4H420.6" stroke="#1a1a1a" stroke-width="0.75"/>
<path d="M416.4 45.8H420.6" stroke="#1a1a1a" stroke-width="0.75"/><path d="M418.5 43.6V48" stroke="#1a1a1a" stroke-width="0.75"/>
<path d="M433.1 34.4H437.3" stroke="#1a1a1a" stroke-width="0.75"/><path d="M435.2 32.2V36.6" stroke="#1a1a1a" stroke-width="0.75"/>
<path d="M433.1 45.8H437.3" stroke="#1a1a1a" stroke-width="0.75"/><path d="M435.2 43.6V48" stroke="#1a1a1a" stroke-width="0.75"/>
<path d="M453.8 34.4H458" stroke="#1a1a1a" stroke-width="0.75"/>
<path d="M453.8 45.8H458" stroke="#1a1a1a" stroke-width="0.75"/>
<path d="M469.4 34.4H473.6" stroke="#1a1a1a" stroke-width="0.75"/><path d="M471.5 32.2V36.6" stroke="#1a1a1a" stroke-width="0.75"/>
<path d="M469.4 45.8H473.6" stroke="#1a1a1a" stroke-width="0.75"/>
<path d="M485.6 34.4H489.8" stroke="#1a1a1a" stroke-width="0.75"/>
<path d="M485.6 45.8H489.8" stroke="#1a1a1a" stroke-width="0.75"/><path d="M487.7 43.6V48" stroke="#1a1a1a" stroke-width="0.75"/>
<path d="M501.8 34.4H506" stroke="#1a1a1a" stroke-width="0.75"/><path d="M503.9 32.2V36.6" stroke="#1a1a1a" stroke-width="0.75"/>
<path d="M501.8 45.8H506" stroke="#1a1a1a" stroke-width="0.75"/><path d="M503.9 43.6V48" stroke="#1a1a1a" stroke-width="0.75"/>
<text x="305.3" y="62.9" font-size="8" text-anchor="end" textLength="22.2" lengthAdjust="spacingAndGlyphs">MCL-1</text>
<text x="305.3" y="75.2" font-size="8" text-anchor="end" textLength="21.1" lengthAdjust="spacingAndGlyphs">BCL-2</text>
<text x="305.3" y="86.9" font-size="8" text-anchor="end" textLength="25" lengthAdjust="spacingAndGlyphs">BCL-xL</text>
<text x="305.6" y="100.1" font-size="8" text-anchor="end" textLength="48" lengthAdjust="spacingAndGlyphs">pBAD <tspan font-style="italic">Ser112</tspan></text>
<text x="305.6" y="118.7" font-size="8" text-anchor="end" textLength="27.9" lengthAdjust="spacingAndGlyphs">GAPDH</text>
<defs><filter id="bl" x="-30%" y="-80%" width="160%" height="260%"><feGaussianBlur stdDeviation="0.95"/></filter></defs>
<rect x="307.3" y="54.2" width="69.2" height="49" fill="#f1f1f1"/>
<rect x="307.3" y="110" width="69.2" height="12.5" fill="#e4e4e4"/>
<path d="M312.4 57.6Q317.3 59 322.2 57.6Q323.8 57.6 323.8 59.6Q323.8 61.6 322.2 61.6Q317.3 62.65 312.4 61.6Q310.8 61.6 310.8 59.6Q310.8 57.6 312.4 57.6Z" fill="rgb(50,50,50)" filter="url(#bl)"/>
<path d="M328.1 57.7Q333.1 59.1 338.1 57.7Q339.7 57.7 339.7 59.6Q339.7 61.5 338.1 61.5Q333.1 62.55 328.1 61.5Q326.5 61.5 326.5 59.6Q326.5 57.7 328.1 57.7Z" fill="rgb(73,73,73)" filter="url(#bl)"/>
<path d="M345.1 57.8Q350.05 59.2 355 57.8Q356.6 57.8 356.6 59.6Q356.6 61.4 355 61.4Q350.05 62.45 345.1 61.4Q343.5 61.4 343.5 59.6Q343.5 57.8 345.1 57.8Z" fill="rgb(110,110,110)" filter="url(#bl)"/>
<path d="M362.5 57.8Q366.95 59.2 371.4 57.8Q373 57.8 373 59.6Q373 61.4 371.4 61.4Q366.95 62.45 362.5 61.4Q360.9 61.4 360.9 59.6Q360.9 57.8 362.5 57.8Z" fill="rgb(124,124,124)" filter="url(#bl)"/>
<path d="M312.1 72.1Q317 73.5 321.9 72.1Q323.5 72.1 323.5 73.7Q323.5 75.3 321.9 75.3Q317 76.35 312.1 75.3Q310.5 75.3 310.5 73.7Q310.5 72.1 312.1 72.1Z" fill="rgb(96,96,96)" filter="url(#bl)"/>
<path d="M329.1 72.1Q333.5 73.5 337.9 72.1Q339.5 72.1 339.5 73.7Q339.5 75.3 337.9 75.3Q333.5 76.35 329.1 75.3Q327.5 75.3 327.5 73.7Q327.5 72.1 329.1 72.1Z" fill="rgb(129,129,129)" filter="url(#bl)"/>
<path d="M345 72.2Q350 73.6 355 72.2Q356.5 72.2 356.5 73.7Q356.5 75.2 355 75.2Q350 76.25 345 75.2Q343.5 75.2 343.5 73.7Q343.5 72.2 345 72.2Z" fill="rgb(198,198,198)" filter="url(#bl)"/>
<path d="M362 72.2Q366.5 73.6 371 72.2Q372.5 72.2 372.5 73.7Q372.5 75.2 371 75.2Q366.5 76.25 362 75.2Q360.5 75.2 360.5 73.7Q360.5 72.2 362 72.2Z" fill="rgb(182,182,182)" filter="url(#bl)"/>
<path d="M311.3 81.85Q317.1 83.25 322.9 81.85Q324.5 81.85 324.5 84.5Q324.5 87.15 322.9 87.15Q317.1 88.2 311.3 87.15Q309.7 87.15 309.7 84.5Q309.7 81.85 311.3 81.85Z" fill="rgb(8,8,8)" filter="url(#bl)"/>
<path d="M327.1 82Q333.15 83.4 339.2 82Q340.8 82 340.8 84.5Q340.8 87 339.2 87Q333.15 88.05 327.1 87Q325.5 87 325.5 84.5Q325.5 82 327.1 82Z" fill="rgb(8,8,8)" filter="url(#bl)"/>
<path d="M344.5 82.75Q350 84.15 355.5 82.75Q357.1 82.75 357.1 84.5Q357.1 86.25 355.5 86.25Q350 87.3 344.5 86.25Q342.9 86.25 342.9 84.5Q342.9 82.75 344.5 82.75Z" fill="rgb(89,89,89)" filter="url(#bl)"/>
<path d="M361.1 82.5Q366.95 83.9 372.8 82.5Q374.4 82.5 374.4 84.5Q374.4 86.5 372.8 86.5Q366.95 87.55 361.1 86.5Q359.5 86.5 359.5 84.5Q359.5 82.5 361.1 82.5Z" fill="rgb(36,36,36)" filter="url(#bl)"/>
<path d="M311.6 95Q317.25 96.4 322.9 95Q324.5 95 324.5 97Q324.5 99 322.9 99Q317.25 100.05 311.6 99Q310 99 310 97Q310 95 311.6 95Z" fill="rgb(27,27,27)" filter="url(#bl)"/>
<path d="M327.6 95Q333 96.4 338.4 95Q340 95 340 97Q340 99 338.4 99Q333 100.05 327.6 99Q326 99 326 97Q326 95 327.6 95Z" fill="rgb(36,36,36)" filter="url(#bl)"/>
<path d="M345 95.5Q350 96.9 355 95.5Q356.5 95.5 356.5 97Q356.5 98.5 355 98.5Q350 99.55 345 98.5Q343.5 98.5 343.5 97Q343.5 95.5 345 95.5Z" fill="rgb(205,205,205)" filter="url(#bl)"/>
<path d="M362 95.5Q367 96.9 372 95.5Q373.5 95.5 373.5 97Q373.5 98.5 372 98.5Q367 99.55 362 98.5Q360.5 98.5 360.5 97Q360.5 95.5 362 95.5Z" fill="rgb(205,205,205)" filter="url(#bl)"/>
<path d="M310.3 113.5Q316.6 114.9 322.9 113.5Q324.5 113.5 324.5 116Q324.5 118.5 322.9 118.5Q316.6 119.55 310.3 118.5Q308.7 118.5 308.7 116Q308.7 113.5 310.3 113.5Z" fill="rgb(8,8,8)" filter="url(#bl)"/>
<path d="M328.3 113.5Q334.05 114.9 339.8 113.5Q341.4 113.5 341.4 116Q341.4 118.5 339.8 118.5Q334.05 119.55 328.3 118.5Q326.7 118.5 326.7 116Q326.7 113.5 328.3 113.5Z" fill="rgb(8,8,8)" filter="url(#bl)"/>
<path d="M345.1 113.5Q350.9 114.9 356.7 113.5Q358.3 113.5 358.3 116Q358.3 118.5 356.7 118.5Q350.9 119.55 345.1 118.5Q343.5 118.5 343.5 116Q343.5 113.5 345.1 113.5Z" fill="rgb(8,8,8)" filter="url(#bl)"/>
<path d="M362.1 113.5Q367.9 114.9 373.7 113.5Q375.3 113.5 375.3 116Q375.3 118.5 373.7 118.5Q367.9 119.55 362.1 118.5Q360.5 118.5 360.5 116Q360.5 113.5 362.1 113.5Z" fill="rgb(8,8,8)" filter="url(#bl)"/>
<rect x="376.5" y="54.2" width="68.5" height="49" fill="#f1f1f1"/>
<rect x="376.5" y="110" width="68.5" height="12.5" fill="#e4e4e4"/>
<path d="M382.7 59.4Q387.5 60.8 392.3 59.4Q393.9 59.4 393.9 61Q393.9 62.6 392.3 62.6Q387.5 63.65 382.7 62.6Q381.1 62.6 381.1 61Q381.1 59.4 382.7 59.4Z" fill="rgb(147,147,147)" filter="url(#bl)"/>
<path d="M400.7 59.4Q405.5 60.8 410.3 59.4Q411.9 59.4 411.9 61Q411.9 62.6 410.3 62.6Q405.5 63.65 400.7 62.6Q399.1 62.6 399.1 61Q399.1 59.4 400.7 59.4Z" fill="rgb(170,170,170)" filter="url(#bl)"/>
<path d="M416 59.5Q421.5 60.9 427 59.5Q428.5 59.5 428.5 61Q428.5 62.5 427 62.5Q421.5 63.55 416 62.5Q414.5 62.5 414.5 61Q414.5 59.5 416 59.5Z" fill="rgb(233,233,233)" filter="url(#bl)"/>
<path d="M433 59.5Q438 60.9 443 59.5Q444.5 59.5 444.5 61Q444.5 62.5 443 62.5Q438 63.55 433 62.5Q431.5 62.5 431.5 61Q431.5 59.5 433 59.5Z" fill="rgb(233,233,233)" filter="url(#bl)"/>
<path d="M380.6 70.5Q386.45 71.9 392.3 70.5Q393.9 70.5 393.9 72.8Q393.9 75.1 392.3 75.1Q386.45 76.15 380.6 75.1Q379 75.1 379 72.8Q379 70.5 380.6 70.5Z" fill="rgb(8,8,8)" filter="url(#bl)"/>
<path d="M397 70.6Q403.1 72 409.2 70.6Q410.8 70.6 410.8 72.8Q410.8 75 409.2 75Q403.1 76.05 397 75Q395.4 75 395.4 72.8Q395.4 70.6 397 70.6Z" fill="rgb(8,8,8)" filter="url(#bl)"/>
<path d="M414.6 70.6Q420.2 72 425.8 70.6Q427.4 70.6 427.4 72.8Q427.4 75 425.8 75Q420.2 76.05 414.6 75Q413 75 413 72.8Q413 70.6 414.6 70.6Z" fill="rgb(8,8,8)" filter="url(#bl)"/>
<path d="M430.8 70.6Q436.5 72 442.2 70.6Q443.8 70.6 443.8 72.8Q443.8 75 442.2 75Q436.5 76.05 430.8 75Q429.2 75 429.2 72.8Q429.2 70.6 430.8 70.6Z" fill="rgb(8,8,8)" filter="url(#bl)"/>
<path d="M381.1 82.9Q386.25 84.3 391.4 82.9Q393 82.9 393 84.5Q393 86.1 391.4 86.1Q386.25 87.15 381.1 86.1Q379.5 86.1 379.5 84.5Q379.5 82.9 381.1 82.9Z" fill="rgb(31,31,31)" filter="url(#bl)"/>
<path d="M396.6 82.8Q402.75 84.2 408.9 82.8Q410.5 82.8 410.5 84.5Q410.5 86.2 408.9 86.2Q402.75 87.25 396.6 86.2Q395 86.2 395 84.5Q395 82.8 396.6 82.8Z" fill="rgb(50,50,50)" filter="url(#bl)"/>
<path d="M415 83Q419.5 84.4 424 83Q425.5 83 425.5 84.5Q425.5 86 424 86Q419.5 87.05 415 86Q413.5 86 413.5 84.5Q413.5 83 415 83Z" fill="rgb(119,119,119)" filter="url(#bl)"/>
<path d="M432.1 82.9Q437 84.3 441.9 82.9Q443.5 82.9 443.5 84.5Q443.5 86.1 441.9 86.1Q437 87.15 432.1 86.1Q430.5 86.1 430.5 84.5Q430.5 82.9 432.1 82.9Z" fill="rgb(96,96,96)" filter="url(#bl)"/>
<path d="M380.1 94.75Q385.25 96.15 390.4 94.75Q392 94.75 392 97Q392 99.25 390.4 99.25Q385.25 100.3 380.1 99.25Q378.5 99.25 378.5 97Q378.5 94.75 380.1 94.75Z" fill="rgb(8,8,8)" filter="url(#bl)"/>
<path d="M395.6 94.75Q401 96.15 406.4 94.75Q408 94.75 408 97Q408 99.25 406.4 99.25Q401 100.3 395.6 99.25Q394 99.25 394 97Q394 94.75 395.6 94.75Z" fill="rgb(8,8,8)" filter="url(#bl)"/>
<path d="M412.1 94.9Q417 96.3 421.9 94.9Q423.5 94.9 423.5 97Q423.5 99.1 421.9 99.1Q417 100.15 412.1 99.1Q410.5 99.1 410.5 97Q410.5 94.9 412.1 94.9Z" fill="rgb(20,20,20)" filter="url(#bl)"/>
<path d="M428.1 95.1Q433.5 96.5 438.9 95.1Q440.5 95.1 440.5 97Q440.5 98.9 438.9 98.9Q433.5 99.95 428.1 98.9Q426.5 98.9 426.5 97Q426.5 95.1 428.1 95.1Z" fill="rgb(50,50,50)" filter="url(#bl)"/>
<path d="M379 113.8Q384.8 115.2 390.6 113.8Q392.2 113.8 392.2 116.3Q392.2 118.8 390.6 118.8Q384.8 119.85 379 118.8Q377.4 118.8 377.4 116.3Q377.4 113.8 379 113.8Z" fill="rgb(8,8,8)" filter="url(#bl)"/>
<path d="M396 114Q401.75 115.4 407.5 114Q409.1 114 409.1 116.3Q409.1 118.6 407.5 118.6Q401.75 119.65 396 118.6Q394.4 118.6 394.4 116.3Q394.4 114 396 114Z" fill="rgb(8,8,8)" filter="url(#bl)"/>
<path d="M414.5 113.8Q420.3 115.2 426.1 113.8Q427.7 113.8 427.7 116.3Q427.7 118.8 426.1 118.8Q420.3 119.85 414.5 118.8Q412.9 118.8 412.9 116.3Q412.9 113.8 414.5 113.8Z" fill="rgb(8,8,8)" filter="url(#bl)"/>
<path d="M431.4 114Q437 115.4 442.6 114Q444.2 114 444.2 116.3Q444.2 118.6 442.6 118.6Q437 119.65 431.4 118.6Q429.8 118.6 429.8 116.3Q429.8 114 431.4 114Z" fill="rgb(8,8,8)" filter="url(#bl)"/>
<rect x="445" y="54.2" width="68" height="49" fill="#ebebeb"/>
<rect x="445" y="110" width="68" height="12.5" fill="#bcbcbc"/>
<path d="M451.7 57.4Q457.2 58.8 462.7 57.4Q464.3 57.4 464.3 60Q464.3 62.6 462.7 62.6Q457.2 63.65 451.7 62.6Q450.1 62.6 450.1 60Q450.1 57.4 451.7 57.4Z" fill="rgb(8,8,8)" filter="url(#bl)"/>
<path d="M468.3 57.5Q473.8 58.9 479.3 57.5Q480.9 57.5 480.9 60Q480.9 62.5 479.3 62.5Q473.8 63.55 468.3 62.5Q466.7 62.5 466.7 60Q466.7 57.5 468.3 57.5Z" fill="rgb(8,8,8)" filter="url(#bl)"/>
<path d="M485.6 57.5Q490.75 58.9 495.9 57.5Q497.5 57.5 497.5 60Q497.5 62.5 495.9 62.5Q490.75 63.55 485.6 62.5Q484 62.5 484 60Q484 57.5 485.6 57.5Z" fill="rgb(8,8,8)" filter="url(#bl)"/>
<path d="M500.9 58Q506.05 59.4 511.2 58Q512.8 58 512.8 60Q512.8 62 511.2 62Q506.05 63.05 500.9 62Q499.3 62 499.3 60Q499.3 58 500.9 58Z" fill="rgb(112,112,112)" filter="url(#bl)"/>
<path d="M448.9 69.5Q454.4 70.9 459.9 69.5Q461.5 69.5 461.5 73Q461.5 76.5 459.9 76.5Q454.4 77.55 448.9 76.5Q447.3 76.5 447.3 73Q447.3 69.5 448.9 69.5Z" fill="rgb(8,8,8)" filter="url(#bl)"/>
<path d="M466.3 70.5Q471.1 71.9 475.9 70.5Q477.5 70.5 477.5 73Q477.5 75.5 475.9 75.5Q471.1 76.55 466.3 75.5Q464.7 75.5 464.7 73Q464.7 70.5 466.3 70.5Z" fill="rgb(8,8,8)" filter="url(#bl)"/>
<path d="M483.1 71Q489 72.4 494.9 71Q496.5 71 496.5 73Q496.5 75 494.9 75Q489 76.05 483.1 75Q481.5 75 481.5 73Q481.5 71 483.1 71Z" fill="rgb(205,205,205)" filter="url(#bl)"/>
<path d="M498.1 71Q504 72.4 509.9 71Q511.5 71 511.5 73Q511.5 75 509.9 75Q504 76.05 498.1 75Q496.5 75 496.5 73Q496.5 71 498.1 71Z" fill="rgb(159,159,159)" filter="url(#bl)"/>
<path d="M448.9 82.7Q454.75 84.1 460.6 82.7Q462.2 82.7 462.2 85.2Q462.2 87.7 460.6 87.7Q454.75 88.75 448.9 87.7Q447.3 87.7 447.3 85.2Q447.3 82.7 448.9 82.7Z" fill="rgb(8,8,8)" filter="url(#bl)"/>
<path d="M465.6 82.7Q471.05 84.1 476.5 82.7Q478.1 82.7 478.1 85.2Q478.1 87.7 476.5 87.7Q471.05 88.75 465.6 87.7Q464 87.7 464 85.2Q464 82.7 465.6 82.7Z" fill="rgb(8,8,8)" filter="url(#bl)"/>
<path d="M482.1 83.2Q487.6 84.6 493.1 83.2Q494.7 83.2 494.7 85.2Q494.7 87.2 493.1 87.2Q487.6 88.25 482.1 87.2Q480.5 87.2 480.5 85.2Q480.5 83.2 482.1 83.2Z" fill="rgb(8,8,8)" filter="url(#bl)"/>
<path d="M498.8 83Q504.65 84.4 510.5 83Q512.1 83 512.1 85.2Q512.1 87.4 510.5 87.4Q504.65 88.45 498.8 87.4Q497.2 87.4 497.2 85.2Q497.2 83 498.8 83Z" fill="rgb(8,8,8)" filter="url(#bl)"/>
<path d="M449.6 93.1Q455.45 94.5 461.3 93.1Q462.9 93.1 462.9 96.6Q462.9 100.1 461.3 100.1Q455.45 101.15 449.6 100.1Q448 100.1 448 96.6Q448 93.1 449.6 93.1Z" fill="rgb(8,8,8)" filter="url(#bl)"/>
<path d="M467 93.6Q472.1 95 477.2 93.6Q478.8 93.6 478.8 96.6Q478.8 99.6 477.2 99.6Q472.1 100.65 467 99.6Q465.4 99.6 465.4 96.6Q465.4 93.6 467 93.6Z" fill="rgb(8,8,8)" filter="url(#bl)"/>
<path d="M481.1 94.1Q487.5 95.5 493.9 94.1Q495.5 94.1 495.5 96.6Q495.5 99.1 493.9 99.1Q487.5 100.15 481.1 99.1Q479.5 99.1 479.5 96.6Q479.5 94.1 481.1 94.1Z" fill="rgb(194,194,194)" filter="url(#bl)"/>
<path d="M497.1 94.1Q503.5 95.5 509.9 94.1Q511.5 94.1 511.5 96.6Q511.5 99.1 509.9 99.1Q503.5 100.15 497.1 99.1Q495.5 99.1 495.5 96.6Q495.5 94.1 497.1 94.1Z" fill="rgb(198,198,198)" filter="url(#bl)"/>
<path d="M447.7 114.8Q454.3 116.2 460.9 114.8Q462.5 114.8 462.5 117Q462.5 119.2 460.9 119.2Q454.3 120.25 447.7 119.2Q446.1 119.2 446.1 117Q446.1 114.8 447.7 114.8Z" fill="rgb(8,8,8)" filter="url(#bl)"/>
<path d="M464.6 114.8Q471.25 116.2 477.9 114.8Q479.5 114.8 479.5 117Q479.5 119.2 477.9 119.2Q471.25 120.25 464.6 119.2Q463 119.2 463 117Q463 114.8 464.6 114.8Z" fill="rgb(8,8,8)" filter="url(#bl)"/>
<path d="M481.1 115Q487.45 116.4 493.8 115Q495.4 115 495.4 117Q495.4 119 493.8 119Q487.45 120.05 481.1 119Q479.5 119 479.5 117Q479.5 115 481.1 115Z" fill="rgb(8,8,8)" filter="url(#bl)"/>
<path d="M497.6 115Q504.15 116.4 510.7 115Q512.3 115 512.3 117Q512.3 119 510.7 119Q504.15 120.05 497.6 119Q496 119 496 117Q496 115 497.6 115Z" fill="rgb(8,8,8)" filter="url(#bl)"/>
<circle cx="498.1" cy="68.6" r="0.8" fill="#222"/><circle cx="501.8" cy="69.4" r="0.8" fill="#222"/>
<path d="M307.3 54.2H513M307.3 66.5H513M307.3 78.8H513M307.3 91.0H513M307.3 103.2H513M307.3 110H513M307.3 122.5H513" stroke="#1a1a1a" stroke-width="1.1"/>
<path d="M307.3 54.2V103.2M307.3 110V122.5" stroke="#1a1a1a" stroke-width="1.1"/>
<path d="M376.5 54.2V103.2M376.5 110V122.5" stroke="#1a1a1a" stroke-width="1.1"/>
<path d="M445 54.2V103.2M445 110V122.5" stroke="#1a1a1a" stroke-width="1.1"/>
<path d="M513 54.2V103.2M513 110V122.5" stroke="#1a1a1a" stroke-width="1.1"/>
<text x="341.3" y="140" font-size="8.14" text-anchor="middle" textLength="18.09" lengthAdjust="spacingAndGlyphs" >MyLa</text>
<text x="410.6" y="140" font-size="8.14" text-anchor="middle" textLength="25.5" lengthAdjust="spacingAndGlyphs" >MAC2A</text>
<text x="479.3" y="140.1" font-size="8.14" text-anchor="middle" textLength="14.4" lengthAdjust="spacingAndGlyphs" >NKL</text>
<text transform="translate(281.2,206) rotate(-90)" font-size="8.7" style="stroke-width:0.25px" text-anchor="middle" textLength="70.2" lengthAdjust="spacingAndGlyphs">rel. CytoC release/ DMSO</text>
<path d="M307.6 166V247.4H512.2" fill="none" stroke="#1a1a1a" stroke-width="1.2"/>
<path d="M307.6 227.4H512.2" stroke="#1a1a1a" stroke-width="1"/>
<path d="M305 168.36H307.6" stroke="#1a1a1a" stroke-width="1"/>
<text x="302.6" y="171.16" font-size="7.9" text-anchor="end">0.6</text>
<path d="M305 188.04H307.6" stroke="#1a1a1a" stroke-width="1"/>
<text x="302.6" y="190.84" font-size="7.9" text-anchor="end">0.4</text>
<path d="M305 207.72H307.6" stroke="#1a1a1a" stroke-width="1"/>
<text x="302.6" y="210.52" font-size="7.9" text-anchor="end">0.2</text>
<path d="M305 227.4H307.6" stroke="#1a1a1a" stroke-width="1"/>
<text x="302.6" y="230.2" font-size="7.9" text-anchor="end">0.0</text>
<path d="M305 247.08H307.6" stroke="#1a1a1a" stroke-width="1"/>
<text x="302.6" y="249.88" font-size="7.9" text-anchor="end">−0.2</text>
<path d="M317.5 247.4V250.4" stroke="#1a1a1a" stroke-width="0.9"/>
<text transform="translate(319.8,258) rotate(-45)" font-size="8.33" text-anchor="end" textLength="22.5" lengthAdjust="spacingAndGlyphs">DMSO</text>
<path d="M317.5 218.2V237.4M315.9 218.2H319.1M315.9 237.4H319.1" stroke="#1e324a" stroke-width="0.7" fill="none"/>
<circle cx="314.4" cy="218.7" r="1.5" fill="#22374f"/>
<circle cx="321.6" cy="215.4" r="1.5" fill="#22374f"/>
<circle cx="317.5" cy="225.9" r="1.5" fill="#22374f"/>
<circle cx="317.5" cy="229.8" r="1.5" fill="#22374f"/>
<circle cx="317.5" cy="234.5" r="1.5" fill="#22374f"/>
<circle cx="317.5" cy="241.3" r="1.5" fill="#22374f"/>
<path d="M332.6 247.4V250.4" stroke="#1a1a1a" stroke-width="0.9"/>
<text transform="translate(334.9,258) rotate(-45)" font-size="8.33" text-anchor="end" textLength="39.6" lengthAdjust="spacingAndGlyphs">Adavosertib</text>
<rect x="327.85" y="227.4" width="9.5" height="3.8" fill="#8b9cae"/>
<path d="M332.6 229V235M331 229H334.2M331 235H334.2" stroke="#1e324a" stroke-width="0.7" fill="none"/>
<circle cx="329" cy="230" r="1.5" fill="#22374f"/>
<circle cx="332.6" cy="229" r="1.5" fill="#22374f"/>
<circle cx="336" cy="230.5" r="1.5" fill="#22374f"/>
<circle cx="332.6" cy="233" r="1.5" fill="#22374f"/>
<circle cx="330" cy="232.5" r="1.5" fill="#22374f"/>
<circle cx="332.6" cy="238.4" r="1.5" fill="#22374f"/>
<path d="M347.4 247.4V250.4" stroke="#1a1a1a" stroke-width="0.9"/>
<text transform="translate(349.7,258) rotate(-45)" font-size="8.33" text-anchor="end" textLength="34.6" lengthAdjust="spacingAndGlyphs">Ruxolitinib</text>
<rect x="342.65" y="219.2" width="9.5" height="8.2" fill="#8b9cae"/>
<path d="M347.4 214.3V224M345.8 214.3H349M345.8 224H349" stroke="#1e324a" stroke-width="0.7" fill="none"/>
<circle cx="347.4" cy="210.6" r="1.5" fill="#22374f"/>
<circle cx="344" cy="219" r="1.5" fill="#22374f"/>
<circle cx="350.5" cy="219" r="1.5" fill="#22374f"/>
<circle cx="347.4" cy="222" r="1.5" fill="#22374f"/>
<circle cx="347.4" cy="225.5" r="1.5" fill="#22374f"/>
<circle cx="347.4" cy="228.8" r="1.5" fill="#22374f"/>
<path d="M362.6 247.4V250.4" stroke="#1a1a1a" stroke-width="0.9"/>
<text transform="translate(364.9,258) rotate(-45)" font-size="8.33" text-anchor="end" textLength="42.1" lengthAdjust="spacingAndGlyphs">Combination</text>
<rect x="357.85" y="209.6" width="9.5" height="17.8" fill="#8b9cae"/>
<path d="M362.6 207.5V212M361 207.5H364.2M361 212H364.2" stroke="#1e324a" stroke-width="0.7" fill="none"/>
<circle cx="362.6" cy="207.5" r="1.5" fill="#22374f"/>
<circle cx="359.5" cy="210" r="1.5" fill="#22374f"/>
<circle cx="365.5" cy="210" r="1.5" fill="#22374f"/>
<circle cx="362" cy="212.5" r="1.5" fill="#22374f"/>
<circle cx="361" cy="215" r="1.5" fill="#22374f"/>
<path d="M317.5 157.5H362.6" stroke="#333" stroke-width="0.8"/>
<circle cx="335.93" cy="153.3" r="0.95" fill="#222"/>
<circle cx="338.68" cy="153.3" r="0.95" fill="#222"/>
<circle cx="341.43" cy="153.3" r="0.95" fill="#222"/>
<circle cx="344.18" cy="153.3" r="0.95" fill="#222"/>
<path d="M332.6 170.2H362.6" stroke="#333" stroke-width="0.8"/>
<circle cx="343.48" cy="166" r="0.95" fill="#222"/>
<circle cx="346.23" cy="166" r="0.95" fill="#222"/>
<circle cx="348.98" cy="166" r="0.95" fill="#222"/>
<circle cx="351.73" cy="166" r="0.95" fill="#222"/>
<path d="M347.4 182.5H362.6" stroke="#333" stroke-width="0.8"/>
<circle cx="355" cy="178.3" r="0.95" fill="#222"/>
<path d="M387.5 247.4V250.4" stroke="#1a1a1a" stroke-width="0.9"/>
<text transform="translate(389.8,258) rotate(-45)" font-size="8.33" text-anchor="end" textLength="22.5" lengthAdjust="spacingAndGlyphs">DMSO</text>
<path d="M387.5 221V234M385.9 221H389.1M385.9 234H389.1" stroke="#1e324a" stroke-width="0.7" fill="none"/>
<circle cx="387.5" cy="217.8" r="1.5" fill="#22374f"/>
<circle cx="387.5" cy="224.7" r="1.5" fill="#22374f"/>
<circle cx="384" cy="228.3" r="1.5" fill="#22374f"/>
<circle cx="391" cy="228.3" r="1.5" fill="#22374f"/>
<circle cx="384" cy="233.1" r="1.5" fill="#22374f"/>
<circle cx="391" cy="233.1" r="1.5" fill="#22374f"/>
<path d="M402.5 247.4V250.4" stroke="#1a1a1a" stroke-width="0.9"/>
<text transform="translate(404.8,258) rotate(-45)" font-size="8.33" text-anchor="end" textLength="39.6" lengthAdjust="spacingAndGlyphs">Adavosertib</text>
<rect x="397.75" y="227.4" width="9.5" height="4.8" fill="#8b9cae"/>
<path d="M402.5 226V236M400.9 226H404.1M400.9 236H404.1" stroke="#1e324a" stroke-width="0.7" fill="none"/>
<circle cx="399" cy="228" r="1.5" fill="#22374f"/>
<circle cx="402.5" cy="227" r="1.5" fill="#22374f"/>
<circle cx="405.5" cy="229" r="1.5" fill="#22374f"/>
<circle cx="399" cy="232" r="1.5" fill="#22374f"/>
<circle cx="405.5" cy="233" r="1.5" fill="#22374f"/>
<circle cx="402.5" cy="240.6" r="1.5" fill="#22374f"/>
<circle cx="406" cy="237" r="1.5" fill="#22374f"/>
<path d="M417.3 247.4V250.4" stroke="#1a1a1a" stroke-width="0.9"/>
<text transform="translate(419.6,258) rotate(-45)" font-size="8.33" text-anchor="end" textLength="34.6" lengthAdjust="spacingAndGlyphs">Ruxolitinib</text>
<rect x="412.55" y="220.7" width="9.5" height="6.7" fill="#8b9cae"/>
<path d="M417.3 216V224M415.7 216H418.9M415.7 224H418.9" stroke="#1e324a" stroke-width="0.7" fill="none"/>
<circle cx="417.3" cy="213.5" r="1.5" fill="#22374f"/>
<circle cx="414" cy="220" r="1.5" fill="#22374f"/>
<circle cx="420.5" cy="220" r="1.5" fill="#22374f"/>
<circle cx="417.3" cy="222" r="1.5" fill="#22374f"/>
<circle cx="417.3" cy="225" r="1.5" fill="#22374f"/>
<path d="M432.5 247.4V250.4" stroke="#1a1a1a" stroke-width="0.9"/>
<text transform="translate(434.8,258) rotate(-45)" font-size="8.33" text-anchor="end" textLength="42.1" lengthAdjust="spacingAndGlyphs">Combination</text>
<rect x="427.75" y="192.7" width="9.5" height="34.7" fill="#8b9cae"/>
<path d="M432.5 189V196M430.9 189H434.1M430.9 196H434.1" stroke="#1e324a" stroke-width="0.7" fill="none"/>
<circle cx="432.5" cy="187.9" r="1.5" fill="#22374f"/>
<circle cx="434" cy="189.4" r="1.5" fill="#22374f"/>
<circle cx="430" cy="192" r="1.5" fill="#22374f"/>
<circle cx="435" cy="193" r="1.5" fill="#22374f"/>
<circle cx="432.5" cy="195.5" r="1.5" fill="#22374f"/>
<path d="M387.5 157.5H432.5" stroke="#333" stroke-width="0.8"/>
<circle cx="405.88" cy="153.3" r="0.95" fill="#222"/>
<circle cx="408.62" cy="153.3" r="0.95" fill="#222"/>
<circle cx="411.38" cy="153.3" r="0.95" fill="#222"/>
<circle cx="414.12" cy="153.3" r="0.95" fill="#222"/>
<path d="M402.5 170.2H432.5" stroke="#333" stroke-width="0.8"/>
<circle cx="413.38" cy="166" r="0.95" fill="#222"/>
<circle cx="416.12" cy="166" r="0.95" fill="#222"/>
<circle cx="418.88" cy="166" r="0.95" fill="#222"/>
<circle cx="421.62" cy="166" r="0.95" fill="#222"/>
<path d="M417.3 182.5H432.5" stroke="#333" stroke-width="0.8"/>
<circle cx="420.77" cy="178.3" r="0.95" fill="#222"/>
<circle cx="423.52" cy="178.3" r="0.95" fill="#222"/>
<circle cx="426.27" cy="178.3" r="0.95" fill="#222"/>
<circle cx="429.02" cy="178.3" r="0.95" fill="#222"/>
<path d="M456.7 247.4V250.4" stroke="#1a1a1a" stroke-width="0.9"/>
<text transform="translate(459,258) rotate(-45)" font-size="8.33" text-anchor="end" textLength="22.5" lengthAdjust="spacingAndGlyphs">DMSO</text>
<path d="M456.7 223V231M455.1 223H458.3M455.1 231H458.3" stroke="#1e324a" stroke-width="0.7" fill="none"/>
<circle cx="456.7" cy="222.1" r="1.5" fill="#22374f"/>
<circle cx="453.5" cy="225.9" r="1.5" fill="#22374f"/>
<circle cx="460" cy="225.9" r="1.5" fill="#22374f"/>
<circle cx="456.7" cy="230.5" r="1.5" fill="#22374f"/>
<circle cx="453.7" cy="233.4" r="1.5" fill="#22374f"/>
<circle cx="460" cy="231" r="1.5" fill="#22374f"/>
<path d="M471.5 247.4V250.4" stroke="#1a1a1a" stroke-width="0.9"/>
<text transform="translate(473.8,258) rotate(-45)" font-size="8.33" text-anchor="end" textLength="39.6" lengthAdjust="spacingAndGlyphs">Adavosertib</text>
<rect x="466.75" y="210.3" width="9.5" height="17.1" fill="#8b9cae"/>
<path d="M471.5 206.7V215M469.9 206.7H473.1M469.9 215H473.1" stroke="#1e324a" stroke-width="0.7" fill="none"/>
<circle cx="471.5" cy="202.4" r="1.5" fill="#22374f"/>
<circle cx="468" cy="211" r="1.5" fill="#22374f"/>
<circle cx="475" cy="211" r="1.5" fill="#22374f"/>
<circle cx="471.5" cy="213" r="1.5" fill="#22374f"/>
<circle cx="468.5" cy="216" r="1.5" fill="#22374f"/>
<circle cx="474.5" cy="216" r="1.5" fill="#22374f"/>
<circle cx="471.5" cy="220" r="1.5" fill="#22374f"/>
<path d="M486.3 247.4V250.4" stroke="#1a1a1a" stroke-width="0.9"/>
<text transform="translate(488.6,258) rotate(-45)" font-size="8.33" text-anchor="end" textLength="34.6" lengthAdjust="spacingAndGlyphs">Ruxolitinib</text>
<rect x="481.55" y="208.9" width="9.5" height="18.5" fill="#8b9cae"/>
<path d="M486.3 207V212M484.7 207H487.9M484.7 212H487.9" stroke="#1e324a" stroke-width="0.7" fill="none"/>
<circle cx="490" cy="207.1" r="1.5" fill="#22374f"/>
<circle cx="484" cy="210" r="1.5" fill="#22374f"/>
<circle cx="488" cy="211" r="1.5" fill="#22374f"/>
<circle cx="486.3" cy="213" r="1.5" fill="#22374f"/>
<circle cx="486.3" cy="215.5" r="1.5" fill="#22374f"/>
<path d="M501.1 247.4V250.4" stroke="#1a1a1a" stroke-width="0.9"/>
<text transform="translate(503.4,258) rotate(-45)" font-size="8.33" text-anchor="end" textLength="42.1" lengthAdjust="spacingAndGlyphs">Combination</text>
<rect x="496.35" y="197" width="9.5" height="30.4" fill="#8b9cae"/>
<path d="M501.1 192V202M499.5 192H502.7M499.5 202H502.7" stroke="#1e324a" stroke-width="0.7" fill="none"/>
<circle cx="501.1" cy="188" r="1.5" fill="#22374f"/>
<circle cx="501.1" cy="193.7" r="1.5" fill="#22374f"/>
<circle cx="498" cy="197" r="1.5" fill="#22374f"/>
<circle cx="504" cy="197" r="1.5" fill="#22374f"/>
<circle cx="501.1" cy="200" r="1.5" fill="#22374f"/>
<circle cx="498" cy="201" r="1.5" fill="#22374f"/>
<path d="M456.7 157.5H501.1" stroke="#333" stroke-width="0.8"/>
<circle cx="474.77" cy="153.3" r="0.95" fill="#222"/>
<circle cx="477.52" cy="153.3" r="0.95" fill="#222"/>
<circle cx="480.27" cy="153.3" r="0.95" fill="#222"/>
<circle cx="483.02" cy="153.3" r="0.95" fill="#222"/>
<path d="M471.5 170.2H501.1" stroke="#333" stroke-width="0.8"/>
<circle cx="482.18" cy="166" r="0.95" fill="#222"/>
<circle cx="484.93" cy="166" r="0.95" fill="#222"/>
<circle cx="487.68" cy="166" r="0.95" fill="#222"/>
<circle cx="490.43" cy="166" r="0.95" fill="#222"/>
<path d="M486.3 182.5H501.1" stroke="#333" stroke-width="0.8"/>
<circle cx="489.58" cy="178.3" r="0.95" fill="#222"/>
<circle cx="492.33" cy="178.3" r="0.95" fill="#222"/>
<circle cx="495.08" cy="178.3" r="0.95" fill="#222"/>
<circle cx="497.83" cy="178.3" r="0.95" fill="#222"/>
<rect x="0.5" y="0.5" width="518.8" height="448.8" fill="none" stroke="#474747" stroke-width="1.1"/>
</svg></div></body></html>
